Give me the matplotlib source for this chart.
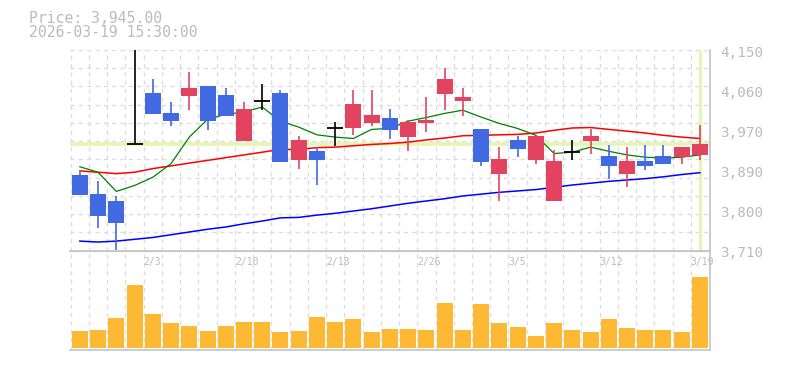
import matplotlib
matplotlib.use("Agg")
import matplotlib.pyplot as plt
import matplotlib.transforms as mtransforms
import numpy as np

# trading days shown on the chart
dates = ["1/28", "1/29", "1/30", "2/2", "2/3", "2/4", "2/5", "2/6", "2/9", "2/10",
         "2/12", "2/13", "2/16", "2/17", "2/18", "2/19", "2/20", "2/24", "2/25", "2/26",
         "2/27", "3/2", "3/3", "3/4", "3/5", "3/6", "3/9", "3/10", "3/11", "3/12",
         "3/13", "3/16", "3/17", "3/18", "3/19"]

opens = [3875, 3835, 3820, 3945, 4055, 4011, 4050, 4071, 4051, 3951,
         4039, 4055, 3909, 3929, 3979, 3979, 3990, 4000, 3959, 3989,
         4054, 4038, 3976, 3879, 3952, 3908, 3818, 3926, 3950, 3917,
         3879, 3906, 3917, 3915, 3920]
highs = [3882, 3862, 3831, 4150, 4086, 4036, 4102, 4071, 4066, 4036,
         4075, 4062, 3961, 3937, 3992, 4062, 4062, 4020, 3996, 4047,
         4110, 4066, 3976, 3937, 3961, 3961, 3930, 3952, 3976, 3941,
         3937, 3941, 3941, 3937, 3985]
lows = [3833, 3759, 3711, 3945, 4010, 3984, 4018, 3974, 4006, 3951,
        4018, 3904, 3889, 3853, 3940, 3963, 3983, 3954, 3928, 3970,
        4018, 4005, 3895, 3818, 3915, 3899, 3818, 3908, 3923, 3868,
        3849, 3888, 3899, 3899, 3908]
closes = [3833, 3786, 3770, 3945, 4010, 3995, 4066, 3995, 4006, 4020,
          4039, 3904, 3952, 3909, 3979, 4031, 4007, 3975, 3992, 3996,
          4086, 4047, 3904, 3910, 3934, 3961, 3906, 3926, 3961, 3895,
          3906, 3895, 3899, 3937, 3945]

ma_short = [3894, 3882, 3840, 3853, 3871, 3901, 3959, 3998, 4009, 4014,
            4025, 3994, 3981, 3964, 3959, 3956, 3976, 3978, 3994, 4002,
            4011, 4018, 4003, 3989, 3978, 3963, 3923, 3926, 3937, 3928,
            3920, 3915, 3913, 3915, 3920]
ma_mid = [3885, 3882, 3879, 3882, 3890, 3896, 3902, 3908, 3914, 3920,
          3926, 3932, 3932, 3936, 3937, 3940, 3943, 3945, 3948, 3953,
          3957, 3962, 3963, 3964, 3965, 3968, 3974, 3979, 3980, 3976,
          3972, 3968, 3963, 3959, 3956]
ma_long = [3731, 3729, 3731, 3735, 3739, 3745, 3751, 3757, 3762, 3769,
           3775, 3782, 3783, 3788, 3792, 3797, 3802, 3808, 3814, 3819,
           3824, 3830, 3834, 3838, 3841, 3844, 3849, 3854, 3858, 3862,
           3865, 3868, 3872, 3877, 3881]

volumes = [17, 18, 30, 63, 34, 25, 22, 17, 22, 26,
           26, 16, 17, 31, 26, 29, 16, 19, 19, 18,
           45, 18, 44, 25, 21, 12, 25, 18, 16, 29,
           20, 18, 18, 16, 71]

last_price = 3945
last_time = "2026-03-19 15:30:00"
label_every = 5
label_start = 4

UP = "#e2445f"
DOWN = "#4169e1"
TXT = "#bbbbbb"
GRID = "#dddddd"
MONO = "DejaVu Sans Mono"


def style_axis(ax):
    for side in ("top", "left"):
        ax.spines[side].set_visible(False)
    for side in ("right", "bottom"):
        ax.spines[side].set_color("#c4c4c4")
        ax.spines[side].set_linewidth(1.2)
    ax.tick_params(length=0, labelleft=False, labelbottom=False)
    ax.grid(True, color=GRID, linestyle=(0, (3, 3)), linewidth=1)
    ax.set_axisbelow(True)


fig = plt.figure(figsize=(7.85, 3.70), dpi=100)
W, H = 785, 370
ax_p = fig.add_axes([70 / W, 1 - 250.7 / H, 640 / W, 200.7 / H])
ax_v = fig.add_axes([70 / W, 1 - 350 / H, 640 / W, 99.3 / H])

n = len(dates)
x = np.arange(n)
o, h, l, c = map(np.array, (opens, highs, lows, closes))
xlim = (-0.54, n - 1 + 0.55)

# price panel
ax_p.set_xlim(*xlim)
ax_p.set_ylim(3710, 4150)
ax_p.set_xticks(x - 0.5)
ax_p.set_yticks(np.arange(3710, 4151, 40))
style_axis(ax_p)

# crosshair on the last bar
ax_p.axhline(last_price, color="#e6f5b4", lw=2.6, zorder=1)
ax_p.axvline(x[-1], ymin=0.008, ymax=0.99, color="#e6f5b4", lw=2.4, zorder=1)

ax_p.plot(x, ma_long, color="#0000ff", lw=1.1, zorder=2)
ax_p.plot(x, ma_mid, color="#ff0000", lw=1.1, zorder=2)
ax_p.plot(x, ma_short, color="#008000", lw=0.9, zorder=2)

body_w = 0.877
for i in range(n):
    if c[i] > o[i]:
        col = UP
    elif c[i] < o[i]:
        col = DOWN
    else:
        col = "black"
    ax_p.vlines(x[i], l[i], h[i], color=col, lw=1.2, zorder=3)
    if col == "black":
        ax_p.hlines(c[i], x[i] - body_w / 2, x[i] + body_w / 2, color=col, lw=1.3, zorder=3)
    else:
        ax_p.bar(x[i], abs(c[i] - o[i]), bottom=min(o[i], c[i]), width=body_w,
                 color=col, zorder=3, linewidth=0)

# right-hand price labels
lbl_trans = mtransforms.offset_copy(
    mtransforms.blended_transform_factory(ax_p.transAxes, ax_p.transData),
    fig=fig, x=10, y=-2.7, units="dots")
for v in np.linspace(4150, 3710, 6):
    ax_p.text(1.0, v, f"{round(v, -1):,.0f}", transform=lbl_trans,
              ha="left", va="center", fontsize=10.4, color=TXT,
              family=MONO, clip_on=False)

# volume panel
ax_v.bar(x, volumes, width=body_w, color="#fdb933", linewidth=0, zorder=2)
ax_v.set_xlim(*xlim)
ax_v.set_ylim(-1.5, 97.5)
ax_v.set_xticks(x - 0.5)
ax_v.set_yticks([])
style_axis(ax_v)
ax_v.spines["top"].set_visible(True)
ax_v.spines["top"].set_color("#c4c4c4")

date_trans = mtransforms.blended_transform_factory(ax_v.transData, ax_v.transAxes)
for i in range(label_start, n, label_every):
    ax_v.text(i - 0.5, 0.886, dates[i], transform=date_trans, ha="left",
              va="center", fontsize=7, color=TXT, family=MONO)

fig.text(29 / W, 1 - 23 / H, f"Price: {last_price:,.2f}", ha="left",
         va="baseline", fontsize=10.6, color=TXT, family=MONO)
fig.text(29 / W, 1 - 37 / H, last_time, ha="left", va="baseline",
         fontsize=10.6, color=TXT, family=MONO)

fig.savefig("out.png", dpi=100)
